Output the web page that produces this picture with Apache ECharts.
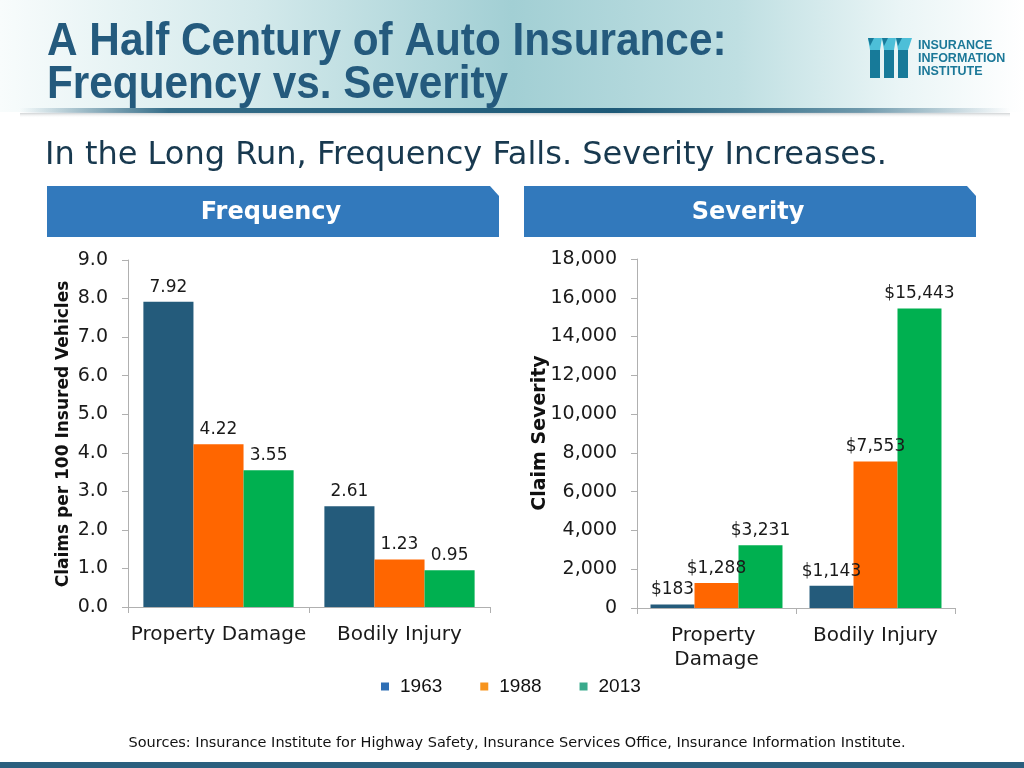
<!DOCTYPE html>
<html>
<head>
<meta charset="utf-8">
<script src="https://cdn.jsdelivr.net/npm/echarts@6/dist/echarts.min.js"></script>
<style>
  html, body { margin: 0; padding: 0; background: #fff; }
  #chart { width: 1024px; height: 768px; }
</style>
</head>
<body>
<div id="chart"></div>
<script>
// ---- data ----
var categories = ['Property Damage', 'Bodily Injury'];
var years = ['1963', '1988', '2013'];
var freq1963 = [7.92, 2.61];
var freq1988 = [4.22, 1.23];
var freq2013 = [3.55, 0.95];
var sev1963 = [183, 1143];
var sev1988 = [1288, 7553];
var sev2013 = [3231, 15443];
var freqTicks = { min: 0, max: 9, interval: 1 };
var sevTicks = { min: 0, max: 18000, interval: 2000 };

var barColors = ['#245B7B', '#FF6600', '#00B050'];
var legendColors = ['#2F6FB5', '#F7941E', '#3AAA8C'];
var AXIS_FONT = 'DejaVu Sans, Verdana, sans-serif';

function commas(v) { return String(v).replace(/\B(?=(\d{3})+(?!\d))/g, ','); }

var chart = echarts.init(document.getElementById('chart'), null, { renderer: 'canvas' });

function barSeries(name, data, idx, axisIdx, fmt) {
  return {
    name: name,
    type: 'bar',
    xAxisIndex: axisIdx,
    yAxisIndex: axisIdx,
    data: data,
    barGap: '0%',
    barCategoryGap: '17%',
    itemStyle: { color: barColors[idx] },
    label: {
      show: true,
      position: 'top',
      distance: 6,
      color: '#1a1a1a',
      fontFamily: AXIS_FONT,
      fontSize: 17,
      formatter: function (p) { return fmt(p.value); }
    },
    labelLayout: { hideOverlap: false },
    animation: false
  };
}

var fmtFreq = function (v) { return v.toFixed(2); };
var fmtSev = function (v) { return '$' + commas(v); };

var axisLineStyle = { color: '#B0B0B0', width: 1 };

var option = {
  backgroundColor: '#ffffff',
  animation: false,
  grid: [
    { left: 128, top: 260, width: 362, height: 347 },
    { left: 637, top: 259, width: 318, height: 349 }
  ],
  xAxis: [0, 1].map(function (i) {
    return {
      type: 'category',
      gridIndex: i,
      data: categories,
      axisLine: { lineStyle: axisLineStyle },
      axisTick: { show: true, length: 6, lineStyle: axisLineStyle },
      axisLabel: {
        interval: 0,
        hideOverlap: false,
        color: '#1a1a1a',
        fontFamily: AXIS_FONT,
        fontSize: 20,
        margin: 16,
        lineHeight: 24,
        width: i === 1 ? 150 : 220,
        overflow: i === 1 ? 'break' : 'none'
      }
    };
  }),
  yAxis: [
    {
      type: 'value', gridIndex: 0,
      min: freqTicks.min, max: freqTicks.max, interval: freqTicks.interval,
      axisLine: { show: true, lineStyle: axisLineStyle },
      axisTick: { show: true, length: 6, lineStyle: axisLineStyle },
      splitLine: { show: false },
      axisLabel: {
        color: '#1a1a1a', fontFamily: AXIS_FONT, fontSize: 19, margin: 20,
        formatter: function (v) { return v.toFixed(1); }
      }
    },
    {
      type: 'value', gridIndex: 1,
      min: sevTicks.min, max: sevTicks.max, interval: sevTicks.interval,
      axisLine: { show: true, lineStyle: axisLineStyle },
      axisTick: { show: true, length: 6, lineStyle: axisLineStyle },
      splitLine: { show: false },
      axisLabel: {
        color: '#1a1a1a', fontFamily: AXIS_FONT, fontSize: 19, margin: 20,
        formatter: function (v) { return commas(v); }
      }
    }
  ],
  legend: {
    left: 381, top: 677, padding: 0,
    itemWidth: 8, itemHeight: 8,
    itemGap: 38,
    icon: 'rect',
    textStyle: {
      fontFamily: '"Liberation Sans", Arial, sans-serif',
      fontSize: 19, color: '#111', padding: [0, 0, 0, 6]
    },
    data: years.map(function (y, i) {
      return { name: y, itemStyle: { color: legendColors[i] } };
    })
  },
  series: [
    barSeries(years[0], freq1963, 0, 0, fmtFreq),
    barSeries(years[1], freq1988, 1, 0, fmtFreq),
    barSeries(years[2], freq2013, 2, 0, fmtFreq),
    barSeries(years[0], sev1963, 0, 1, fmtSev),
    barSeries(years[1], sev1988, 1, 1, fmtSev),
    barSeries(years[2], sev2013, 2, 1, fmtSev)
  ],
  graphic: [
    // header band
    {
      type: 'rect', z: -10, silent: true,
      shape: { x: 0, y: 0, width: 1024, height: 112 },
      style: {
        fill: new echarts.graphic.LinearGradient(0, 0, 1, 0, [
          { offset: 0, color: '#F8FCFC' },
          { offset: 0.25, color: '#D3E9EB' },
          { offset: 0.5, color: '#A2CFD4' },
          { offset: 0.72, color: '#BFDFE2' },
          { offset: 0.88, color: '#EAF5F6' },
          { offset: 1, color: '#FFFFFF' }
        ])
      }
    },
    // divider line
    {
      type: 'rect', z: -8, silent: true,
      shape: { x: 20, y: 108, width: 990, height: 5 },
      style: {
        fill: new echarts.graphic.LinearGradient(0, 0, 1, 0, [
          { offset: 0, color: 'rgba(35,95,125,0)' },
          { offset: 0.15, color: 'rgba(35,95,125,0.9)' },
          { offset: 0.6, color: 'rgba(30,90,120,1)' },
          { offset: 0.85, color: 'rgba(35,95,125,0.6)' },
          { offset: 1, color: 'rgba(35,95,125,0)' }
        ])
      }
    },
    {
      type: 'rect', z: -8, silent: true,
      shape: { x: 20, y: 113, width: 990, height: 5 },
      style: {
        fill: new echarts.graphic.LinearGradient(0, 0, 0, 1, [
          { offset: 0, color: 'rgba(120,130,135,0.35)' },
          { offset: 1, color: 'rgba(255,255,255,0)' }
        ])
      }
    },
    // title
    {
      type: 'text', x: 47, y: 19, scaleX: 0.92, silent: true,
      style: {
        text: 'A Half Century of Auto Insurance:',
        font: 'bold 46px "Liberation Sans", Arial, sans-serif',
        fill: '#245A7D', verticalAlign: 'top'
      }
    },
    {
      type: 'text', x: 47, y: 62, scaleX: 0.92, silent: true,
      style: {
        text: 'Frequency vs. Severity',
        font: 'bold 46px "Liberation Sans", Arial, sans-serif',
        fill: '#245A7D', verticalAlign: 'top'
      }
    },
    // logo icon
    { type: 'group', x: 868, y: 38, silent: true, children: [
      { type: 'rect', shape: { x: 2, y: 12, width: 10, height: 28 }, style: { fill: '#177A99' } },
      { type: 'rect', shape: { x: 16, y: 12, width: 10, height: 28 }, style: { fill: '#177A99' } },
      { type: 'rect', shape: { x: 30, y: 12, width: 10, height: 28 }, style: { fill: '#177A99' } },
      { type: 'polygon', shape: { points: [[0, 0], [14, 0], [12, 12], [2, 12]] }, style: { fill: '#4DBFD8' } },
      { type: 'polygon', shape: { points: [[14, 0], [28, 0], [26, 12], [16, 12]] }, style: { fill: '#4DBFD8' } },
      { type: 'polygon', shape: { points: [[28, 0], [44, 0], [40, 12], [30, 12]] }, style: { fill: '#4DBFD8' } },
      { type: 'polygon', shape: { points: [[0, 0], [6, 0], [2, 8]] }, style: { fill: '#177A99' } },
      { type: 'polygon', shape: { points: [[14, 0], [20, 0], [16, 8]] }, style: { fill: '#177A99' } },
      { type: 'polygon', shape: { points: [[28, 0], [34, 0], [30, 8]] }, style: { fill: '#177A99' } }
    ] },
    {
      type: 'text', x: 918, y: 39, silent: true,
      style: { text: 'INSURANCE', font: 'bold 12.5px "Liberation Sans", Arial, sans-serif', fill: '#1B7898', verticalAlign: 'top' }
    },
    {
      type: 'text', x: 918, y: 52, silent: true,
      style: { text: 'INFORMATION', font: 'bold 12.5px "Liberation Sans", Arial, sans-serif', fill: '#1B7898', verticalAlign: 'top' }
    },
    {
      type: 'text', x: 918, y: 65, silent: true,
      style: { text: 'INSTITUTE', font: 'bold 12.5px "Liberation Sans", Arial, sans-serif', fill: '#1B7898', verticalAlign: 'top' }
    },
    // subtitle
    {
      type: 'text', x: 45, y: 156, silent: true,
      style: {
        text: 'In the Long Run, Frequency Falls. Severity Increases.',
        font: '32px "DejaVu Sans", Verdana, sans-serif',
        fill: '#18394F', verticalAlign: 'middle'
      }
    },
    // panel headers
    {
      type: 'polygon', silent: true,
      shape: { points: [[47, 186], [490, 186], [499, 196], [499, 237], [47, 237]] },
      style: { fill: '#3279BC' }
    },
    {
      type: 'polygon', silent: true,
      shape: { points: [[524, 186], [967, 186], [976, 196], [976, 237], [524, 237]] },
      style: { fill: '#3279BC' }
    },
    {
      type: 'text', x: 271, y: 213, silent: true,
      style: { text: 'Frequency', font: 'bold 24px "DejaVu Sans", Verdana, sans-serif', fill: '#FFFFFF', align: 'center', verticalAlign: 'middle' }
    },
    {
      type: 'text', x: 748, y: 213, silent: true,
      style: { text: 'Severity', font: 'bold 24px "DejaVu Sans", Verdana, sans-serif', fill: '#FFFFFF', align: 'center', verticalAlign: 'middle' }
    },
    // axis titles
    {
      type: 'text', x: 64, y: 434, rotation: Math.PI / 2, silent: true,
      style: { text: 'Claims per 100 Insured Vehicles', font: 'bold 17px "DejaVu Sans", Verdana, sans-serif', fill: '#111', align: 'center', verticalAlign: 'middle' }
    },
    {
      type: 'text', x: 540, y: 433, rotation: Math.PI / 2, silent: true,
      style: { text: 'Claim Severity', font: 'bold 19px "DejaVu Sans", Verdana, sans-serif', fill: '#111', align: 'center', verticalAlign: 'middle' }
    },
    // sources
    {
      type: 'text', x: 517, y: 743, silent: true,
      style: {
        text: 'Sources: Insurance Institute for Highway Safety, Insurance Services Office, Insurance Information Institute.',
        font: '14.5px "DejaVu Sans", Verdana, sans-serif', fill: '#111', align: 'center', verticalAlign: 'middle'
      }
    },
    // bottom bar
    {
      type: 'rect', silent: true,
      shape: { x: 0, y: 762, width: 1024, height: 6 },
      style: { fill: '#2A5F7E' }
    }
  ]
};

chart.setOption(option);
</script>
</body>
</html>
